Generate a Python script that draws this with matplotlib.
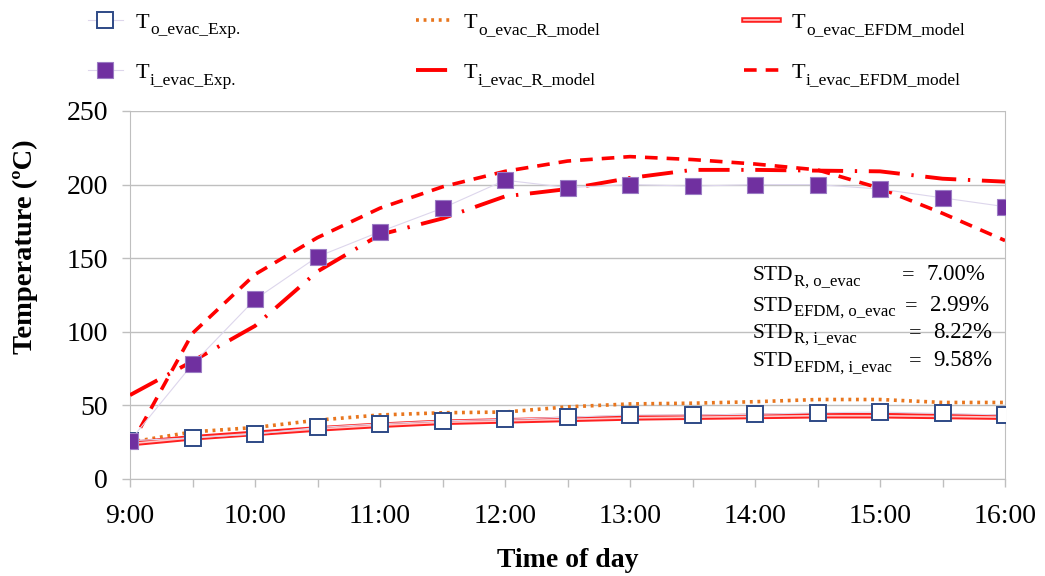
import matplotlib
matplotlib.use('Agg')
import matplotlib.pyplot as plt
import matplotlib.patheffects as pe

plt.rcParams['font.family'] = ['Liberation Serif', 'DejaVu Serif']

# Datos
hours = [9.0, 9.5, 10.0, 10.5, 11.0, 11.5, 12.0, 12.5, 13.0, 13.5, 14.0, 14.5, 15.0, 15.5, 16.0]
hour_ticks = [9, 10, 11, 12, 13, 14, 15, 16]
hour_labels = ['9:00', '10:00', '11:00', '12:00', '13:00', '14:00', '15:00', '16:00']

To_exp  = [26, 28, 30.5, 35, 37.5, 39.5, 40.5, 42, 43.5, 43.5, 44, 45, 45.5, 44.5, 43.5]
Ti_exp  = [26, 78, 122, 151, 168, 184, 203, 198, 200, 199, 200, 200, 197, 191, 185]
To_R    = [25, 32, 35, 40, 43.5, 45, 45.5, 49, 51, 51.5, 52.5, 54, 54, 52, 52]
Ti_R    = [57, 80, 104, 141, 166, 177, 192, 197, 204.5, 210, 210, 209.5, 209, 204, 202]
To_EFDM = [24, 28, 31, 34, 36.5, 38.5, 39.5, 40.5, 41.5, 42, 42.5, 43, 43, 42.5, 42]
Ti_EFDM = [22, 99, 139, 164, 184, 198.5, 209, 216, 219, 217, 214, 210, 197.5, 180.5, 162]

series_subs = ['o_evac_Exp.', 'i_evac_Exp.', 'o_evac_R_model', 'i_evac_R_model',
               'o_evac_EFDM_model', 'i_evac_EFDM_model']
std_subs = ['R, o_evac', 'EFDM, o_evac', 'R, i_evac', 'EFDM, i_evac']
std_values = ['7.00%', '2.99%', '8.22%', '9.58%']

fig = plt.figure(figsize=(10.45, 5.76), dpi=100)
ax = fig.add_axes([130/1045, 1 - 479/576, 875/1045, 368/576])

lav = '#DDD6EC'
h1, = ax.plot(hours, To_exp, color=lav, lw=0.8, marker='s', ms=11, mfc='white',
              mec='#2E4A86', mew=1.4, zorder=5)
h2, = ax.plot(hours, Ti_exp, color=lav, lw=0.8, marker='s', ms=12, mfc='#7030A0',
              mec='#9B7CC4', mew=0.8, zorder=6)
h3, = ax.plot(hours, To_R, color='#E8761E', lw=2.6, ls=(0, (0.8, 1.3)), zorder=3)
h4, = ax.plot(hours, Ti_R, color='#FF0000', lw=2.8, ls=(0, (8, 3, 0.6, 3)), zorder=4)
h5, = ax.plot(hours, To_EFDM, color='#FFC8C8', lw=1.2,
              path_effects=[pe.Stroke(linewidth=4, foreground='#FF2020'), pe.Normal()], zorder=3)
h6, = ax.plot(hours, Ti_EFDM, color='#FF0000', lw=2.6, ls=(0, (3.5, 2.5)), zorder=4)

ax.set_xlim(9, 16)
ax.set_ylim(0, 250)
ax.set_xticks(hour_ticks)
ax.set_xticklabels(hour_labels)
ax.set_xticks(hours, minor=True)
ax.set_yticks([0, 50, 100, 150, 200, 250])
ax.grid(axis='y', color='#BFBFBF', lw=1.0)
ax.set_axisbelow(True)
ax.tick_params(axis='both', which='both', labelsize=20, color='#BFBFBF', length=6, width=1)
ax.tick_params(axis='y', pad=10)
ax.tick_params(axis='x', which='major', pad=12)
for s in ['left', 'bottom', 'right']:
    ax.spines[s].set_color('#BFBFBF')
ax.spines['top'].set_visible(False)

ax.set_xlabel('Time of day', fontsize=20, fontweight='bold', labelpad=14)
ax.set_ylabel('Temperature (ºC)', fontsize=20.5, fontweight='bold')
ax.yaxis.set_label_coords(-0.105, 0.63)


def sub_label(txt, sub, size, dy, parent):
    # subindice pegado a la derecha de un texto
    a = plt.Annotation(sub, xy=(1, 0), xycoords=txt, xytext=(0.3, dy), textcoords='offset points',
                       fontsize=size, ha='left', va='baseline', annotation_clip=False, zorder=20)
    parent.add_artist(a)


# Tabla de desviaciones
std_y = [0.540, 0.457, 0.384, 0.306]
eq_x = [0.889, 0.893, 0.897, 0.897]
for i in range(4):
    t = ax.text(0.712, std_y[i], 'STD', transform=ax.transAxes, fontsize=15.5, va='baseline', ha='left')
    sub_label(t, std_subs[i], 12, 0, ax)
    ax.text(eq_x[i], std_y[i], '=', transform=ax.transAxes, fontsize=16, va='baseline', ha='center')
    ax.text(eq_x[i] + 0.021, std_y[i], std_values[i], transform=ax.transAxes, fontsize=16.5,
            va='baseline', ha='left')

# Leyenda en tres columnas
cols = [((h1, h2), 77), ((h3, h4), 405), ((h5, h6), 733)]
k = 0
for hs, x0 in cols:
    leg = fig.legend(handles=list(hs), labels=['T', 'T'], loc='upper left',
                     bbox_to_anchor=(x0/1045, 1 - 1/576), frameon=False, fontsize=16,
                     borderpad=0, handlelength=1.55, handletextpad=0.6, labelspacing=1.35)
    for txt in leg.get_texts():
        sub_label(txt, series_subs[k], 12.5, -1.0, fig)
        k += 1

fig.savefig('out.png', dpi=100)
